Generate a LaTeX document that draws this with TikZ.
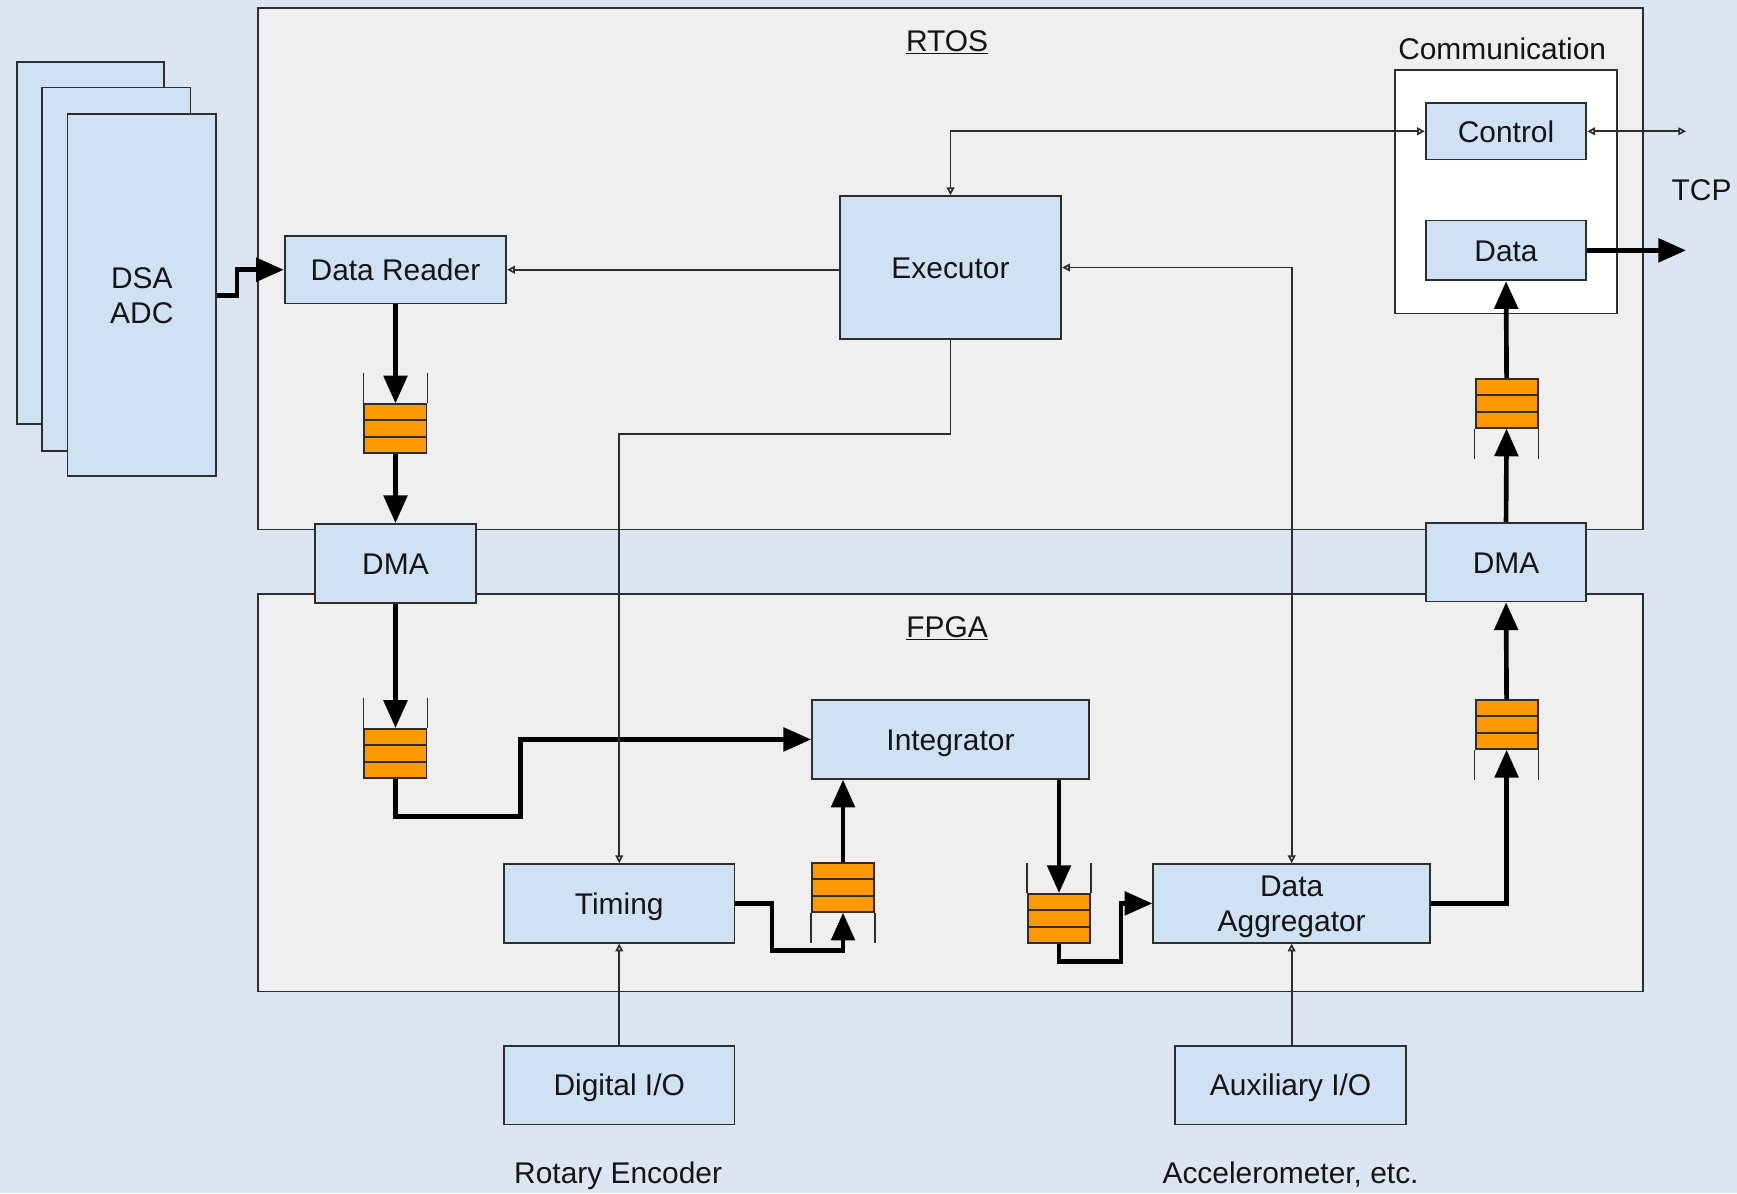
\documentclass[tikz,border=0pt]{standalone}
\usepackage{fontspec}
\setmainfont{Liberation Sans}
\usetikzlibrary{arrows.meta,calc}

\definecolor{pagebg}{RGB}{220,230,242}
\definecolor{panel}{RGB}{239,239,239}
\definecolor{blk}{RGB}{207,226,243}
\definecolor{edge}{RGB}{45,45,45}
\definecolor{qorange}{RGB}{255,153,0}

% divider lines inside a FIFO node (three slots)
\newcommand\fifolines[1]{%
  \draw[edge,line width=1.8pt] ($(#1.north west)!1/3!(#1.south west)$) -- ($(#1.north east)!1/3!(#1.south east)$);
  \draw[edge,line width=1.8pt] ($(#1.north west)!2/3!(#1.south west)$) -- ($(#1.north east)!2/3!(#1.south east)$);}
% open walls of a FIFO, above or below
\newcommand\fifoup[1]{%
  \draw[edge,line width=1.5pt] (#1.north west) -- ++(0,-27);
  \draw[edge,line width=1.5pt] (#1.north east) -- ++(0,-27);}
\newcommand\fifodown[1]{%
  \draw[edge,line width=1.5pt] (#1.south west) -- ++(0,27);
  \draw[edge,line width=1.5pt] (#1.south east) -- ++(0,27);}

\begin{document}
\begin{tikzpicture}[x=1pt,y=-1pt,
  txt/.style={font=\fontsize{27}{32}\selectfont, text=black!92, text height=19.5pt, text depth=0pt},
  twolines/.style={text height=51.5pt, text depth=0pt},
  block/.style={draw=edge, line width=1.6pt, fill=blk, inner sep=0pt, align=center, txt},
  panelbox/.style={draw=edge, line width=1.6pt, fill=panel},
  fifo/.style={draw=edge, line width=1.8pt, fill=qorange, minimum width=56pt, minimum height=44pt, inner sep=0pt},
  bigarrow/.style={line width=4.2pt, draw=black, -{Triangle[length=25pt,width=21pt]}},
  thinline/.style={line width=1.5pt, draw=edge},
  tip/.tip={Triangle[open,length=7pt,width=7pt,line width=1.5pt]},
]
% page
\fill[pagebg] (0,0) rectangle (1568,1077);
\useasboundingbox (0,0) rectangle (1568,1077);

% RTOS and FPGA panels
\draw[panelbox] (233,7) rectangle (1483,478);
\draw[panelbox] (233,536) rectangle (1483,895);
\node[txt] (rtoslbl) at (855,37) {\underline{RTOS}};
\node[txt] (fpgalbl) at (855,566) {\underline{FPGA}};

% stacked DSA ADC boards
\node[block, minimum width=133pt, minimum height=327pt] (dsa1) at (81.5,219.5) {};
\node[block, minimum width=134pt, minimum height=328pt] (dsa2) at (105,243) {};
\node[block, twolines, minimum width=134pt, minimum height=327pt] (dsa3) at (128,266.5) {DSA\\ADC};

% communication group
\draw[line width=1.6pt, draw=edge, fill=white] (1259,63) rectangle (1460,283);
\node[txt] (commlbl) at (1356,44) {Communication};
\node[block, minimum width=145pt, minimum height=51pt] (ctrl) at (1359.5,118.5) {Control};
\node[block, minimum width=145pt, minimum height=54pt] (data) at (1359.5,226) {Data};
\node[txt] (tcplbl) at (1536,171) {TCP};
\coordinate (tcpctrl) at (1522,118.5);
\coordinate (tcpdata) at (1522,226);

% RTOS blocks
\node[block, minimum width=200pt, minimum height=61pt] (reader) at (357,243.5) {Data Reader};
\node[block, minimum width=200pt, minimum height=129pt] (exec) at (858,241.5) {Executor};

% DMA bridges
\node[block, minimum width=146pt, minimum height=71pt] (dmaL) at (357,508.5) {DMA};
\node[block, minimum width=145pt, minimum height=71pt] (dmaR) at (1359.5,507.5) {DMA};

% FPGA blocks
\node[block, minimum width=250pt, minimum height=71pt] (integ) at (858,667.5) {Integrator};
\node[block, minimum width=208pt, minimum height=71pt] (timing) at (559,815.5) {Timing};
\node[block, twolines, minimum width=250pt, minimum height=71pt] (agg) at (1166,815.5) {Data\\Aggregator};

% external I/O
\node[block, minimum width=208pt, minimum height=71pt] (dio) at (559,979.5) {Digital I/O};
\node[block, minimum width=208pt, minimum height=71pt] (aux) at (1165,979.5) {Auxiliary I/O};
\node[txt] (rotlbl) at (558,1059) {Rotary Encoder};
\node[txt] (acclbl) at (1165,1059) {Accelerometer, etc.};

% FIFOs
\node[fifo] (q1) at (357,387) {};   \fifolines{q1} \fifoup{q1}
\node[fifo] (q2) at (357,680) {};   \fifolines{q2} \fifoup{q2}
\node[fifo] (q3) at (761,801) {};   \fifolines{q3} \fifodown{q3}
\node[fifo] (q4) at (956,829) {};   \fifolines{q4} \fifoup{q4}
\node[fifo] (q5) at (1360,654) {};  \fifolines{q5} \fifodown{q5}
\node[fifo] (q6) at (1360,364) {};  \fifolines{q6} \fifodown{q6}

% data path (thick)
\draw[bigarrow] (dsa3.east) -- ++(18,0) |- (reader.west);
\draw[bigarrow] (reader.south) -- (q1.north);
\draw[bigarrow] (q1.south) -- (dmaL.north);
\draw[bigarrow] (dmaL.south) -- (q2.north);
\draw[bigarrow] (q2.south) |- (470,737) |- (integ.west);
\draw[bigarrow] (timing.east) -| (697,858) -| (q3.south);
\draw[bigarrow] (q3.north) -- (q3.north |- integ.south);
\draw[bigarrow] (q4.north |- integ.south) -- (q4.north);
\draw[bigarrow] (q4.south) |- (1012,868) |- (agg.west);
\draw[bigarrow] (agg.east) -| (q5.south);
\draw[bigarrow] (q5.north) -- (dmaR.south);
\draw[bigarrow] (dmaR.north) -- (q6.south);
\draw[bigarrow] (q6.north) -- (data.south);
\draw[bigarrow] (data.east) -- (tcpdata);

% control path (thin)
\draw[thinline, -{tip}] (exec.west |- reader.east) -- (reader.east);
\draw[thinline, {tip}-{tip}] (exec.north) |- (ctrl.west);
\draw[thinline, {tip}-{tip}] (ctrl.east) -- (tcpctrl);
\draw[thinline, {tip}-{tip}] (agg.north) |- (exec.east);
\draw[thinline, -{tip}] (exec.south) -- ++(0,85) -| (timing.north);
\draw[thinline, -{tip}] (dio.north) -- (timing.south);
\draw[thinline, -{tip}] (aux.north -| agg.south) -- (agg.south);
\end{tikzpicture}
\end{document}
